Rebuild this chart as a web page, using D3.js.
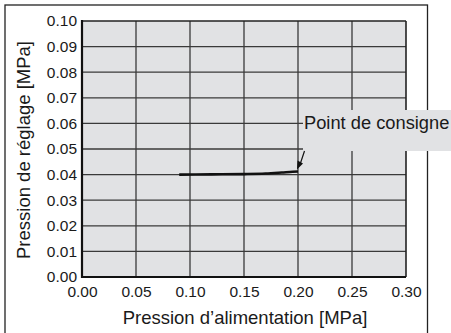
<!DOCTYPE html>
<html><head><meta charset="utf-8">
<script src="https://cdn.jsdelivr.net/npm/d3@7"></script>
<style>
html,body{margin:0;padding:0;background:#fff;}
svg{display:block;}
text{font-family:"Liberation Sans",Arial,Helvetica,sans-serif;fill:#1a1a1a;}
</style></head>
<body>
<svg id="c" width="451" height="333"></svg>
<script>
const xTicks = [0.00, 0.05, 0.10, 0.15, 0.20, 0.25, 0.30];
const yTicks = [0.00, 0.01, 0.02, 0.03, 0.04, 0.05, 0.06, 0.07, 0.08, 0.09, 0.10];
const supplyPressure = [0.09, 0.12, 0.15, 0.17, 0.185, 0.195, 0.20];
const setPressure    = [0.0400, 0.0401, 0.0402, 0.0404, 0.0408, 0.0411, 0.0412];
const xTitle = "Pression d’alimentation [MPa]";
const yTitle = "Pression de réglage [MPa]";
const annotation = "Point de consigne";

const svg = d3.select("#c");
const L = 82, R = 406, T = 21, B = 277;
const x = d3.scaleLinear().domain([0, 0.30]).range([L, R]);
const y = d3.scaleLinear().domain([0, 0.10]).range([B, T]);

// outer frame
svg.append("rect").attr("x", 5).attr("y", 5).attr("width", 422.5).attr("height", 340)
  .attr("fill", "none").attr("stroke", "#222").attr("stroke-width", 1.3);

// plot background
svg.append("rect").attr("x", L).attr("y", T).attr("width", R - L).attr("height", B - T)
  .attr("fill", "#e1e2e4");

// grid
const grid = svg.append("g").attr("stroke", "#3a3a3a").attr("stroke-width", 1.3);
grid.selectAll(".gx").data(xTicks.slice(1, -1)).join("line")
  .attr("x1", d => x(d)).attr("x2", d => x(d)).attr("y1", T).attr("y2", B);
grid.selectAll(".gy").data(yTicks.slice(1, -1)).join("line")
  .attr("x1", L).attr("x2", R).attr("y1", d => y(d)).attr("y2", d => y(d));

// plot border
svg.append("line").attr("x1", L).attr("x2", R).attr("y1", T).attr("y2", T).attr("stroke", "#222").attr("stroke-width", 1.6);
svg.append("line").attr("x1", R).attr("x2", R).attr("y1", T).attr("y2", B).attr("stroke", "#222").attr("stroke-width", 1.6);
svg.append("line").attr("x1", L).attr("x2", L).attr("y1", T - 1).attr("y2", B + 1).attr("stroke", "#111").attr("stroke-width", 2.2);
svg.append("line").attr("x1", L - 1).attr("x2", R).attr("y1", B).attr("y2", B).attr("stroke", "#111").attr("stroke-width", 2.2);

// axes tick labels
const xAxis = d3.axisBottom(x).tickValues(xTicks).tickFormat(d3.format(".2f")).tickSize(0).tickPadding(9);
const gx = svg.append("g").attr("transform", `translate(0,${B})`).call(xAxis);
gx.select(".domain").remove();
gx.selectAll("text").attr("font-size", 15.5).attr("fill", "#1a1a1a")
  .attr("font-family", "Liberation Sans, Arial, sans-serif");

const yAxis = d3.axisLeft(y).tickValues(yTicks).tickFormat(d3.format(".2f")).tickSize(0).tickPadding(5);
const gy = svg.append("g").attr("transform", `translate(${L},0)`).call(yAxis);
gy.select(".domain").remove();
gy.selectAll("text").attr("font-size", 15.5).attr("fill", "#1a1a1a")
  .attr("font-family", "Liberation Sans, Arial, sans-serif");

// titles
svg.append("text").attr("x", (L + R) / 2 + 1).attr("y", 324).attr("text-anchor", "middle")
  .attr("font-size", 18.5).text(xTitle);
svg.append("text").attr("transform", `translate(30,150) rotate(-90)`).attr("text-anchor", "middle")
  .attr("font-size", 18.5).text(yTitle);

// data line
const line = d3.line().x((d, i) => x(supplyPressure[i])).y(d => y(d)).curve(d3.curveMonotoneX);
svg.append("path").datum(setPressure).attr("d", line)
  .attr("fill", "none").attr("stroke", "#111").attr("stroke-width", 2.6).attr("stroke-linecap", "butt");

// annotation box covering grid
svg.append("rect").attr("x", 303).attr("y", 110).attr("width", 148).attr("height", 41)
  .attr("fill", "#e1e2e4");
svg.append("text").attr("x", 304).attr("y", 128.5).attr("font-size", 18.3).text(annotation);

// arrow
const endX = x(supplyPressure[supplyPressure.length - 1]);
const endY = y(setPressure[setPressure.length - 1]);
svg.append("line").attr("x1", 304.5).attr("y1", 151).attr("x2", endX + 2).attr("y2", endY - 7)
  .attr("stroke", "#111").attr("stroke-width", 1.2);
svg.append("path")
  .attr("d", `M${endX - 1},${endY - 2} L${endX - 0.5},${endY - 11} L${endX + 5},${endY - 8} Z`)
  .attr("fill", "#111");
</script>
</body></html>
